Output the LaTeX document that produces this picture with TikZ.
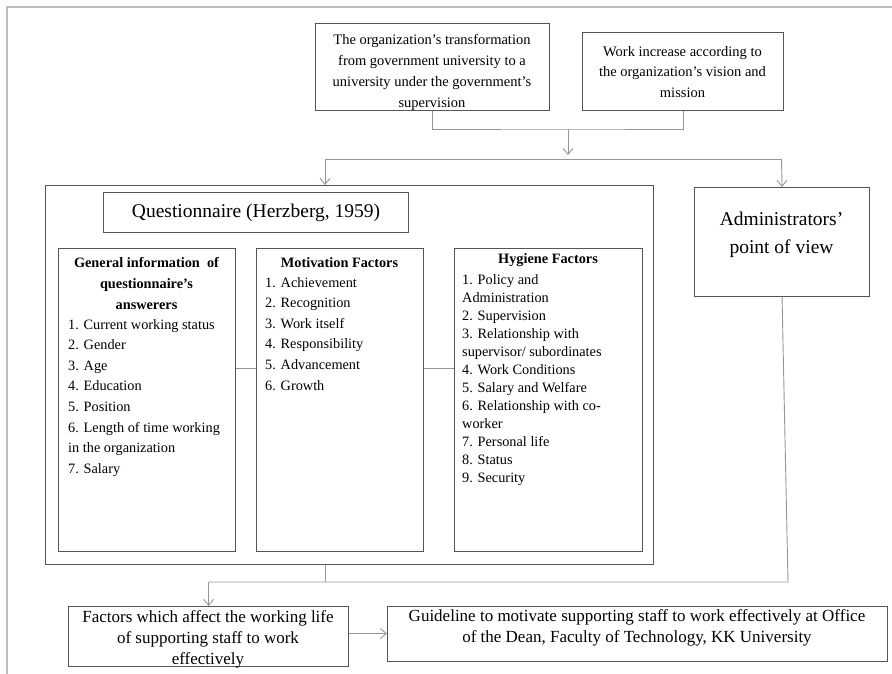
\documentclass[tikz,border=0pt]{standalone}
\usepackage{fontspec}
\setmainfont{Liberation Serif}
\usepackage{xcolor}
\usetikzlibrary{arrows.meta}

\definecolor{boxgray}{RGB}{85,85,85}
\definecolor{linkgray}{RGB}{150,150,150}
\definecolor{framegray}{RGB}{190,190,190}

\begin{document}
\begin{tikzpicture}[x=1pt,y=-1pt,
  box/.style={draw=boxgray,line width=1.1pt,inner sep=0pt,anchor=north west},
  link/.style={draw=linkgray,line width=0.9pt},
  tip/.style={-{Straight Barb[length=6pt,width=10pt]}},
  txt/.style={inner sep=0pt,font=\fontsize{14.3}{20.6}\selectfont},
  bigtxt/.style={inner sep=0pt,font=\fontsize{19.5}{28}\selectfont},
  midtxt/.style={inner sep=0pt,font=\fontsize{17}{21}\selectfont}]
\useasboundingbox (0,0) rectangle (892,674);

%Straight Lines: page frame
\draw[framegray,line width=1.2pt] (7,674) -- (7,7) -- (892,7);

%Shape: Rectangle
\node[box,minimum width=234,minimum height=87] (transf) at (315,23) {};
%Shape: Rectangle
\node[box,minimum width=201,minimum height=78] (workinc) at (582,32) {};
%Shape: Rectangle
\node[box,minimum width=608,minimum height=379] (quest) at (45,185) {};
%Shape: Rectangle
\node[box,minimum width=305,minimum height=40,font=\fontsize{19.5}{24}\selectfont] (questtitle) at (103,192) {Questionnaire (Herzberg, 1959)};
%Shape: Rectangle
\node[box,minimum width=177,minimum height=303] (geninfo) at (58,248) {};
%Shape: Rectangle
\node[box,minimum width=167,minimum height=303] (motiv) at (256,248) {};
%Shape: Rectangle
\node[box,minimum width=188,minimum height=303] (hygiene) at (454,248) {};
%Shape: Rectangle
\node[box,minimum width=175,minimum height=109] (admin) at (694,187) {};
%Shape: Rectangle
\node[box,minimum width=280,minimum height=60] (factors) at (68,606) {};
%Shape: Rectangle
\node[box,minimum width=500,minimum height=55] (guide) at (387,606) {};

% Text Node
\node[txt,anchor=north,align=center,font=\fontsize{14.5}{21}\selectfont] (transftxt) at (432,34) {The organization's transformation\\from government university to a\\university under the government's\\supervision};
% Text Node
\node[txt,anchor=north,align=center,font=\fontsize{14.5}{20.5}\selectfont] (workinctxt) at (682.5,46) {Work increase according to\\the organization's vision and\\mission};
% Text Node
\node[txt,anchor=north,align=center,font=\bfseries\fontsize{14.3}{21}\selectfont] (geninfohead) at (146.5,257) {General information \ of\\questionnaire's\\answerers};
% Text Node
\node[txt,anchor=north west,align=left] (geninfotxt) at (68,319) {1. Current working status\\2. Gender\\3. Age\\4. Education\\5. Position\\6. Length of time working\\in the organization\\7. Salary};
% Text Node
\node[txt,anchor=north,font=\bfseries\fontsize{14.3}{20.6}\selectfont] (motivhead) at (339.5,257) {Motivation Factors};
% Text Node
\node[txt,anchor=north west,align=left] (motivtxt) at (265,277) {1. Achievement\\2. Recognition\\3. Work itself\\4. Responsibility\\5. Advancement\\6. Growth};
% Text Node
\node[txt,anchor=north,font=\bfseries\fontsize{14.3}{20.6}\selectfont] (hygienehead) at (548,253) {Hygiene Factors};
% Text Node
\node[txt,anchor=north west,align=left,font=\fontsize{14.3}{18}\selectfont] (hygienetxt) at (462,274) {1. Policy and\\Administration\\2. Supervision\\3. Relationship with\\supervisor/ subordinates\\4. Work Conditions\\5. Salary and Welfare\\6. Relationship with co-\\worker\\7. Personal life\\8. Status\\9. Security};
% Text Node
\node[bigtxt,anchor=north,align=center] (admintxt) at (781.5,211.5) {Administrators'\\point of view};
% Text Node
\node[midtxt,anchor=north,align=center] (factorstxt) at (208,610.5) {Factors which affect the working life\\of supporting staff to work\\effectively};
% Text Node
\node[midtxt,anchor=north,align=center] (guidetxt) at (637,609.5) {Guideline to motivate supporting staff to work effectively at Office\\of the Dean, Faculty of Technology, KK University};

%Straight Lines: joining the two top boxes
\coordinate (topbar) at (568,129);
\draw[link] (transf.south) |- (topbar) -| (workinc.south);
\coordinate (leftdrop) at (325,159);
\coordinate (rightdrop) at (781.5,159);
\draw[link,tip] (topbar) -- ++(0,26);
\draw[link] (leftdrop) -- (rightdrop);
\draw[link,tip] (leftdrop) -- (leftdrop |- quest.north);
\draw[link,tip] (rightdrop) -- (admin.north);
%Straight Lines: between the three lists
\draw[link] ([yshift=31.5pt]geninfo.east) -- ([yshift=31.5pt]motiv.west);
\draw[link] ([yshift=31.5pt]motiv.east) -- ([yshift=31.5pt]hygiene.west);
%Straight Lines: to the bottom boxes
\coordinate (botbar) at (325,582);
\coordinate (adminfoot) at (788,582);
\draw[link] (botbar |- quest.south) -- (botbar);
\draw[link] (admin.south) -- (adminfoot) -- (factors.north |- botbar);
\draw[link,tip] (factors.north |- botbar) -- (factors.north);
\draw[link,tip] ([yshift=3pt]factors.east) -- ([yshift=3pt]factors.east -| guide.west);
\end{tikzpicture}
\end{document}
